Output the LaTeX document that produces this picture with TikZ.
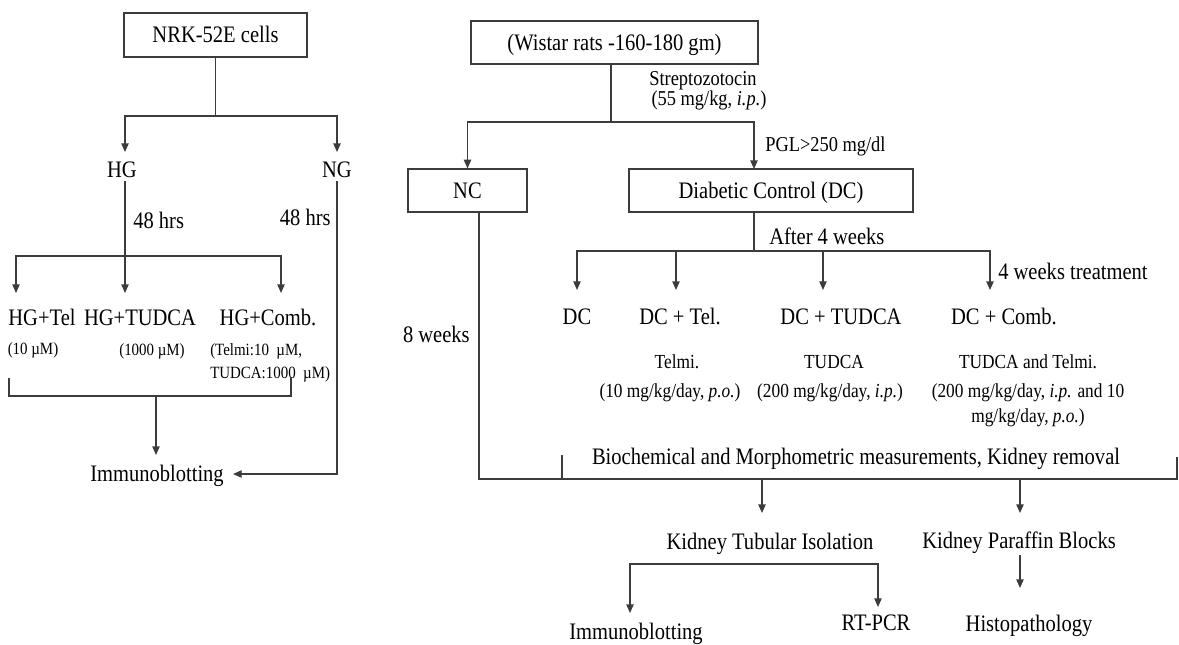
\documentclass[tikz,border=0pt]{standalone}
\usepackage{fontspec}
\usepackage{graphicx}
\setmainfont{Liberation Serif}
\usetikzlibrary{arrows.meta}

\newsavebox\tallbox
\newcommand\fmain{\fontsize{15.4}{18}\selectfont}
\newcommand\fsub{\fontsize{13}{15}\selectfont}
\newcommand\fstz{\fontsize{13.8}{16}\selectfont}
\newcommand\fsmall{\fontsize{11.2}{13}\selectfont}
\definecolor{lc}{HTML}{3C3C3C}

\tikzset{
  tall/.style={inner sep=0pt,
    execute at begin node={\begin{lrbox}{\tallbox}},
    execute at end node={\end{lrbox}\scalebox{1}[1.15]{\usebox{\tallbox}}}},
  tm/.style={tall, font=\fmain, text height=14.2pt, text depth=2.5pt},
  ts/.style={tall, font=\fsub, text height=12.2pt, text depth=2.3pt},
  tz/.style={tall, font=\fstz, text height=12.9pt, text depth=2.4pt},
  tx/.style={tall, font=\fsmall, text height=10.5pt, text depth=2pt},
  box/.style={tm, draw=lc, line width=0.9pt},
  line/.style={draw=lc, line width=1pt},
  arr/.style={line, -{Triangle[width=5.5pt,length=6.5pt]}}
}

\begin{document}
\begin{tikzpicture}[x=0.75pt, y=-0.75pt]
\useasboundingbox (0,0) rectangle (1179,644);

% ---------------- cell culture branch ----------------
\node[box, minimum width=183*0.75pt, minimum height=44*0.75pt] (nrk) at (215.5,35) {NRK-52E cells};
\coordinate (c1) at (215.5,116);
\coordinate (hgin) at (125,152);
\coordinate (ngin) at (337,152);
\draw[line] (nrk.south) -- (c1);
\draw[arr] (c1) -| (hgin);
\draw[arr] (c1) -| (ngin);

\node[tm] (hg) at (122,170) {HG};
\node[tm] (ng) at (337,170) {NG};
\node[tm, anchor=west] (hrsA) at (133,221) {48 hrs};
\node[tm, anchor=east] (hrsB) at (331,218) {48 hrs};

\coordinate (c2) at (125,256);
\coordinate (t1) at (16,293);
\coordinate (t2) at (125,293);
\coordinate (t3) at (281,293);
\draw[line] (hg.south -| c2) -- (c2);
\draw[arr] (c2) -| (t1);
\draw[arr] (c2) -- (t2);
\draw[arr] (c2) -| (t3);

\node[tm] (hgtel) at (42,318) {HG+Tel};
\node[tm] (hgtud) at (140,318) {HG+TUDCA};
\node[tm] (hgcomb) at (268,318) {HG+Comb.};
\node[tx] (dtel) at (33,349) {(10 µM)};
\node[tx] (dtud) at (152,350) {(1000 µM)};
\node[tx, anchor=west] (dcombA) at (210,350) {(Telmi:10\ \ µM,};
\node[tx, anchor=west] (dcombB) at (210,373) {TUDCA:1000\ \ µM)};

\coordinate (bA) at (9,378);
\coordinate (bB) at (9,396);
\coordinate (bC) at (291,396);
\coordinate (bD) at (291,377);
\coordinate (bm) at (156,396);
\coordinate (immtop) at (156,455);
\draw[line] (bA) -- (bB) -- (bC) -- (bD);
\draw[arr] (bm) -- (immtop);

\node[tm] (imm1) at (157,474) {Immunoblotting};
\coordinate (immR) at (233,474);
\draw[arr] (ng.south -| ngin) |- (immR);

% ---------------- animal study branch ----------------
\node[box, minimum width=287*0.75pt, minimum height=43*0.75pt] (wistar) at (614.5,42.5) {(Wistar rats -160-180 gm)};
\node[tz] (stz) at (703,78) {Streptozotocin};
\node[tz] (stzdose) at (709,98) {(55 mg/kg, \textit{i.p.})};

\coordinate (c3) at (611,122);
\coordinate (dcin) at (754,169);
\draw[line] (wistar.south -| c3) -- (c3);

\node[box, minimum width=119*0.75pt, minimum height=43*0.75pt] (nc) at (467.5,190.5) {NC};
\node[box, minimum width=284*0.75pt, minimum height=43*0.75pt] (dc) at (771,190.5) {Diabetic Control (DC)};
\draw[arr] (c3) -| (nc.north);
\draw[arr] (c3) -| (dcin);
\node[tz, anchor=west] (pgl) at (765,144) {PGL>250 mg/dl};

\coordinate (c4) at (754,251);
\draw[line] (dc.south -| c4) -- (c4);
\node[tm, anchor=west] (after) at (769,237) {After 4 weeks};

\coordinate (a1) at (577,290);
\coordinate (a2) at (676,290);
\coordinate (a3) at (823,290);
\coordinate (a4) at (990,290);
\draw[arr] (c4) -| (a1);
\draw[arr] (c4) -| (a2);
\draw[arr] (c4) -| (a3);
\draw[arr] (c4) -| (a4);
\node[tm, anchor=west] (treat) at (998,272) {4 weeks treatment};

\node[tm] (gdc) at (577,317) {DC};
\node[tm] (gtel) at (680,317) {DC + Tel.};
\node[tm] (gtud) at (841,317) {DC + TUDCA};
\node[tm] (gcomb) at (1004,317) {DC + Comb.};

\node[ts] (telA) at (677,361.5) {Telmi.};
\node[ts] (telB) at (670,390.5) {(10 mg/kg/day,\ \textit{p.o.})};
\node[ts] (tudA) at (834,361.5) {TUDCA};
\node[ts] (tudB) at (830,390.5) {(200 mg/kg/day, \textit{i.p.})};
\node[ts] (combA) at (1028,361.5) {TUDCA and Telmi.};
\node[ts] (combB) at (1028,390.5) {(200 mg/kg/day, \textit{i.p.} and 10};
\node[ts] (combC) at (1028,415.5) {mg/kg/day, \textit{p.o.})};

\node[tm, anchor=east] (eight) at (470,335) {8 weeks};

\coordinate (c5) at (479,479);
\coordinate (bl) at (562,479);
\coordinate (blt) at (562,455);
\coordinate (br) at (1177,479);
\coordinate (brt) at (1177,457);
\draw[line] (nc.south -| c5) -- (c5) -- (bl);
\draw[line] (blt) -- (bl) -- (br) -- (brt);
\node[tm] (bio) at (856,457) {Biochemical and Morphometric measurements, Kidney removal};

\coordinate (k1) at (762,479);
\coordinate (k1tip) at (762,513);
\coordinate (k2) at (1020,479);
\coordinate (k2tip) at (1020,513);
\draw[arr] (k1) -- (k1tip);
\draw[arr] (k2) -- (k2tip);

\node[tm] (kti) at (770,542) {Kidney Tubular Isolation};
\node[tm] (kpb) at (1019,541) {Kidney Paraffin Blocks};

\coordinate (ktl) at (630,564);
\coordinate (ktr) at (878,564);
\coordinate (imtip) at (630,613);
\coordinate (rttip) at (878,607);
\draw[arr] (ktr) -- (ktl) -- (imtip);
\draw[arr] (ktl) -- (ktr) -- (rttip);

\coordinate (kp1) at (1020,555);
\coordinate (kp2) at (1020,588);
\draw[arr] (kp1) -- (kp2);

\node[tm] (imm2) at (636,632) {Immunoblotting};
\node[tm] (rt) at (876,623) {RT-PCR};
\node[tm] (histo) at (1029,624) {Histopathology};
\end{tikzpicture}
\end{document}
